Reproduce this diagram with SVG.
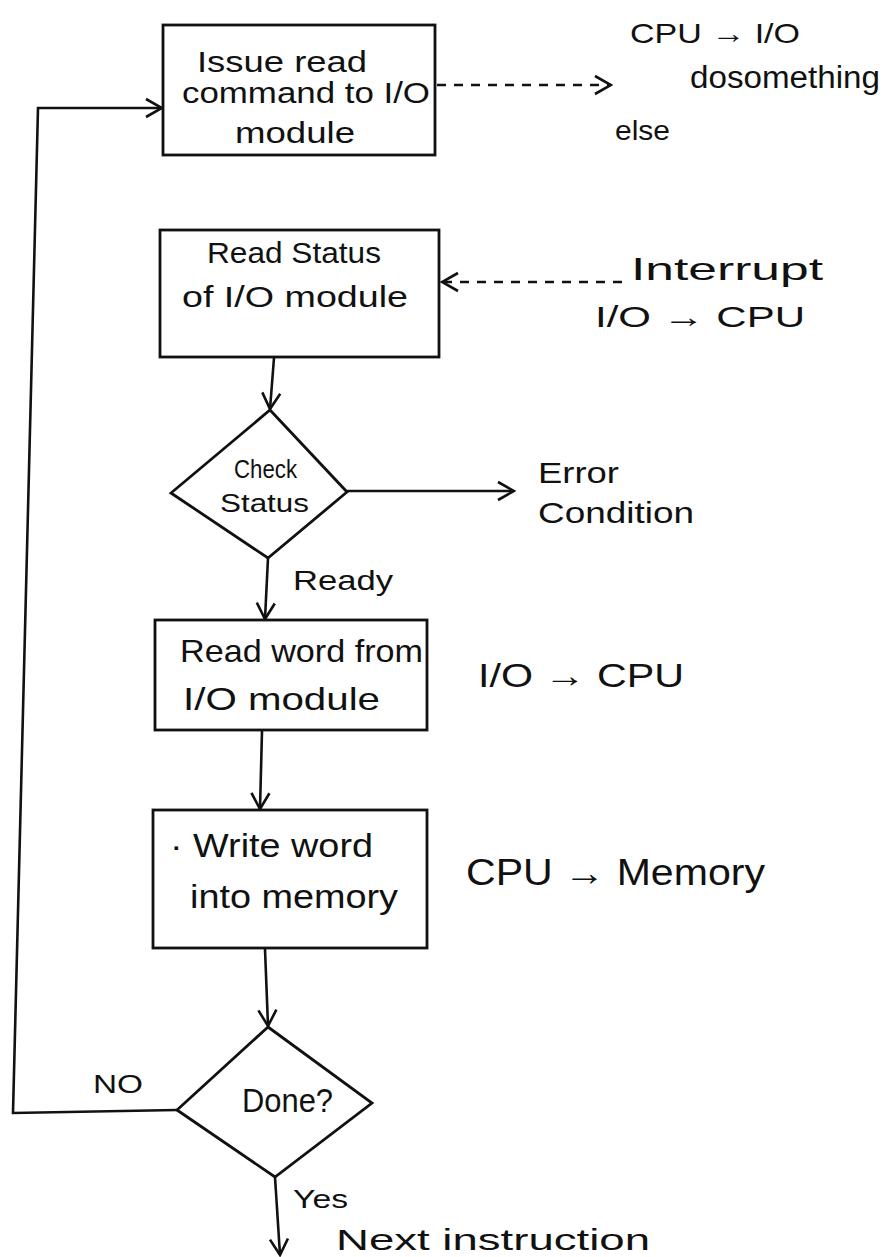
<svg xmlns="http://www.w3.org/2000/svg" width="885" height="1257" viewBox="0 0 885 1257">
<defs>
<style>
.box{fill:none;stroke:#111;stroke-width:2.8}
.ln{fill:none;stroke:#111;stroke-width:2.6}
.dash{fill:none;stroke:#111;stroke-width:2.4;stroke-dasharray:9 8}
text{font-family:"Liberation Sans",Arial,sans-serif;fill:#111}
</style>
<marker id="ah" viewBox="0 0 24 24" refX="22" refY="12" markerWidth="24" markerHeight="24" markerUnits="userSpaceOnUse" orient="auto">
<path d="M6,3 L22,12 L6,21" fill="none" stroke="#111" stroke-width="2.6"/>
</marker>
</defs>
<rect width="885" height="1257" fill="#fff"/>

<g id="connectors">
<polyline class="ln" points="177,1110 13,1113 38,108 162,108" marker-end="url(#ah)"/>
<line class="dash" x1="437" y1="85" x2="611" y2="85" marker-end="url(#ah)"/>
<line class="dash" x1="622" y1="282" x2="442" y2="282" marker-end="url(#ah)"/>
<line class="ln" x1="274" y1="358" x2="270" y2="409" marker-end="url(#ah)"/>
<line class="ln" x1="347" y1="491" x2="514" y2="491" marker-end="url(#ah)"/>
<line class="ln" x1="268" y1="558" x2="265" y2="619" marker-end="url(#ah)"/>
<line class="ln" x1="262" y1="731" x2="260" y2="809" marker-end="url(#ah)"/>
<line class="ln" x1="265" y1="949" x2="268" y2="1026" marker-end="url(#ah)"/>
<line class="ln" x1="275" y1="1177" x2="280" y2="1255" marker-end="url(#ah)"/>
<text x="93" y="1093" font-size="26" textLength="50" lengthAdjust="spacingAndGlyphs">NO</text>
<text x="293" y="1208" font-size="26" textLength="55" lengthAdjust="spacingAndGlyphs">Yes</text>
<text x="293" y="590" font-size="28" textLength="100" lengthAdjust="spacingAndGlyphs">Ready</text>
</g>

<g id="issue">
<rect class="box" x="163" y="25" width="272" height="130"/>
<text x="197" y="72" font-size="30" textLength="170" lengthAdjust="spacingAndGlyphs">Issue read</text>
<text x="182" y="103" font-size="30" textLength="248" lengthAdjust="spacingAndGlyphs">command to I/O</text>
<text x="235" y="143" font-size="30" textLength="120" lengthAdjust="spacingAndGlyphs">module</text>
</g>

<g id="note-cpu-io">
<text x="630" y="43" font-size="28" textLength="170" lengthAdjust="spacingAndGlyphs">CPU → I/O</text>
<text x="690" y="88" font-size="31" textLength="190" lengthAdjust="spacingAndGlyphs">dosomething</text>
<text x="615" y="140" font-size="28" textLength="55" lengthAdjust="spacingAndGlyphs">else</text>
</g>

<g id="readstatus">
<rect class="box" x="160" y="230" width="279" height="127"/>
<text x="207" y="263" font-size="30" textLength="174" lengthAdjust="spacingAndGlyphs">Read Status</text>
<text x="182" y="307" font-size="30" textLength="226" lengthAdjust="spacingAndGlyphs">of I/O module</text>
</g>

<g id="interrupt">
<text x="631" y="280" font-size="32" textLength="192" lengthAdjust="spacingAndGlyphs">Interrupt</text>
<text x="595" y="327" font-size="30" textLength="210" lengthAdjust="spacingAndGlyphs">I/O → CPU</text>
</g>

<g id="checkstatus">
<polygon class="box" points="270,410 347,492 268,558 171,493"/>
<text x="234" y="478" font-size="25" textLength="63" lengthAdjust="spacingAndGlyphs">Check</text>
<text x="220" y="512" font-size="25" textLength="89" lengthAdjust="spacingAndGlyphs">Status</text>
</g>

<g id="error">
<text x="538" y="483" font-size="30" textLength="81" lengthAdjust="spacingAndGlyphs">Error</text>
<text x="538" y="523" font-size="30" textLength="156" lengthAdjust="spacingAndGlyphs">Condition</text>
</g>

<g id="readword">
<rect class="box" x="155" y="620" width="272" height="110"/>
<text x="180" y="662" font-size="32" textLength="243" lengthAdjust="spacingAndGlyphs">Read word from</text>
<text x="183" y="710" font-size="32" textLength="197" lengthAdjust="spacingAndGlyphs">I/O module</text>
</g>

<g id="note-io-cpu">
<text x="478" y="687" font-size="34" textLength="206" lengthAdjust="spacingAndGlyphs">I/O → CPU</text>
</g>

<g id="writeword">
<rect class="box" x="153" y="810" width="274" height="138"/>
<text x="170" y="857" font-size="34" textLength="203" lengthAdjust="spacingAndGlyphs">· Write word</text>
<text x="190" y="908" font-size="34" textLength="208" lengthAdjust="spacingAndGlyphs">into memory</text>
</g>

<g id="note-cpu-mem">
<text x="466" y="885" font-size="36" textLength="299" lengthAdjust="spacingAndGlyphs">CPU → Memory</text>
</g>

<g id="done">
<polygon class="box" points="268,1027 372,1103 275,1177 177,1110"/>
<text x="242" y="1112" font-size="34" textLength="91" lengthAdjust="spacingAndGlyphs">Done?</text>
</g>

<g id="next">
<text x="336" y="1250" font-size="30" textLength="314" lengthAdjust="spacingAndGlyphs">Next instruction</text>
</g>
</svg>
